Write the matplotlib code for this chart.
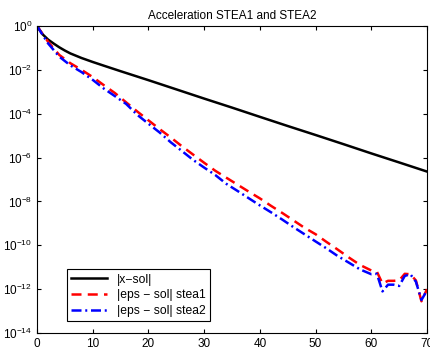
import matplotlib
matplotlib.use('Agg')
import matplotlib.pyplot as plt
from matplotlib.ticker import FixedLocator, NullLocator

plt.rcParams['font.family'] = ['Liberation Sans', 'DejaVu Sans']
plt.rcParams['mathtext.default'] = 'regular'

# iteration numbers and errors
k_sol = [0, 1, 2, 3, 4, 5, 6, 8, 10, 12, 15, 20, 25, 30, 35, 40, 45, 50, 55, 60, 65, 70]
err_sol = [1.0, 4.2e-1, 2.4e-1, 1.58e-1, 1.07e-1, 7.6e-2, 5.6e-2, 3.47e-2, 2.29e-2,
           1.55e-2, 8.7e-3, 3.39e-3, 1.29e-3, 4.9e-4, 1.9e-4, 7.2e-5, 2.75e-5, 1.07e-5,
           4.1e-6, 1.55e-6, 6.0e-7, 2.3e-7]

k_eps = [0, 2, 4, 6, 8, 10, 12, 14, 16, 18, 20, 22, 24, 26, 28, 30, 32, 34, 36, 38, 40,
         42, 44, 46, 48, 50, 52, 54, 56, 58, 60, 61, 62, 63, 64, 65, 66, 67, 68, 69, 70]
err_stea1 = [1.0, 1.9e-1, 4.8e-2, 2.0e-2, 1.0e-2, 4.7e-3, 2.0e-3, 8.7e-4, 3.3e-4, 1.26e-4,
             5.0e-5, 2.0e-5, 8.3e-6, 3.3e-6, 1.38e-6, 5.8e-7, 2.5e-7, 1.2e-7, 5.8e-8,
             2.8e-8, 1.38e-8, 6.3e-9, 3.0e-9, 1.38e-9, 6.3e-10, 3.2e-10, 1.4e-10, 6.3e-11,
             2.75e-11, 1.26e-11, 7.1e-12, 6.3e-12, 1.8e-12, 2.4e-12, 2.4e-12, 2.5e-12,
             5.0e-12, 4.8e-12, 2.5e-12, 2.8e-13, 1.0e-12]
err_stea2 = [1.0, 1.6e-1, 4.0e-2, 1.6e-2, 7.9e-3, 3.5e-3, 1.4e-3, 6.3e-4, 2.8e-4, 8.9e-5,
             3.5e-5, 1.4e-5, 5.0e-6, 2.0e-6, 7.9e-7, 3.5e-7, 1.6e-7, 6.3e-8, 3.0e-8,
             1.4e-8, 6.6e-9, 3.2e-9, 1.5e-9, 6.8e-10, 3.2e-10, 1.5e-10, 7.1e-11, 3.2e-11,
             1.6e-11, 7.9e-12, 4.8e-12, 5.0e-12, 7.9e-13, 1.6e-12, 1.6e-12, 1.4e-12,
             4.0e-12, 4.8e-12, 2.2e-12, 3.2e-13, 8.9e-13]

yticks = [1e0, 1e-2, 1e-4, 1e-6, 1e-8, 1e-10, 1e-12, 1e-14]
xticks = [0, 10, 20, 30, 40, 50, 60, 70]

fig = plt.figure(figsize=(4.31, 3.49), dpi=100)
ax = fig.add_axes([0.0858, 0.0458, 0.905, 0.8797])

ax.semilogy(k_sol, err_sol, color='black', linewidth=1.8, label='|x\u2212sol|')
ax.semilogy(k_eps, err_stea1, color='red', linewidth=1.8, dashes=(4, 2.5),
            label='|eps \u2212 sol| stea1')
ax.semilogy(k_eps, err_stea2, color='blue', linewidth=1.8, dashes=(4, 1.5, 0.8, 1.5),
            label='|eps \u2212 sol| stea2')

ax.set_xlim(0, 70)
ax.set_ylim(1e-14, 1)
ax.xaxis.set_major_locator(FixedLocator(xticks))
ax.yaxis.set_major_locator(FixedLocator(yticks))
ax.yaxis.set_minor_locator(NullLocator())
ax.tick_params(direction='in', top=True, right=True, labelsize=8.5, length=3, width=0.8)
for s in ax.spines.values():
    s.set_linewidth(0.8)

ax.set_title('Acceleration STEA1 and STEA2', fontsize=8.5, pad=5)

leg = ax.legend(loc='lower left', bbox_to_anchor=(0.077, 0.039), borderaxespad=0,
                fontsize=8.7, handlelength=3.0, fancybox=False, framealpha=1,
                edgecolor='black', labelspacing=0.3, borderpad=0.35)
leg.get_frame().set_linewidth(0.8)

fig.savefig('out.png', dpi=100)
